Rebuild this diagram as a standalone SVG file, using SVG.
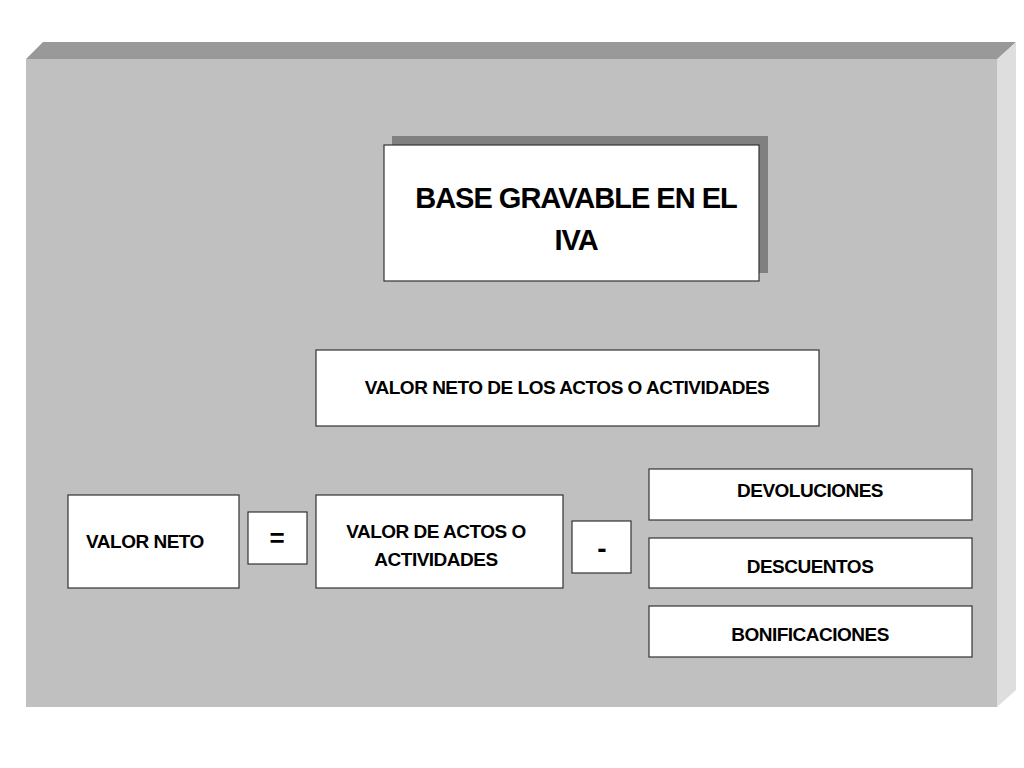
<svg xmlns="http://www.w3.org/2000/svg" width="1024" height="768" viewBox="0 0 1024 768">
<style>
.b{fill:#fff;stroke:#333;stroke-width:1.2}
.t{font-family:"Liberation Sans",Arial,sans-serif;font-weight:bold;fill:#000;text-anchor:middle}
.s{font-size:19px;letter-spacing:-0.5px}
</style>
<rect width="1024" height="768" fill="#fff"/>
<g id="panel">
<polygon points="26,59 43,42 1016,42 998,59" fill="#999"/>
<polygon points="997,59 1016,42 1016,690 997,707" fill="#dedede"/>
<rect x="26" y="59" width="971" height="648" fill="#c0c0c0"/>
</g>
<g id="title">
<rect x="392" y="136" width="376" height="137" fill="#808080"/>
<rect class="b" x="384" y="145" width="375" height="136"/>
<text class="t" x="576" y="208" font-size="29" letter-spacing="-1">BASE GRAVABLE EN EL</text>
<text class="t" x="576" y="250" font-size="29" letter-spacing="-1">IVA</text>
</g>
<g id="valorneto-def"><rect class="b" x="316" y="350" width="503" height="76"/><text class="t s" x="567" y="394">VALOR NETO DE LOS ACTOS O ACTIVIDADES</text></g>
<g id="valorneto"><rect class="b" x="68" y="495" width="171" height="93"/><text class="t s" x="145" y="548">VALOR NETO</text></g>
<g id="eq"><rect class="b" x="248" y="512" width="59" height="52"/><text class="t" x="277" y="547" font-size="26">=</text></g>
<g id="valoractos"><rect class="b" x="316" y="495" width="247" height="93"/><text class="t s" x="436" y="538">VALOR DE ACTOS O</text><text class="t s" x="436" y="566">ACTIVIDADES</text></g>
<g id="minus"><rect class="b" x="572" y="521" width="59" height="52"/><text class="t" x="602" y="558" font-size="28">-</text></g>
<g id="dev"><rect class="b" x="649" y="469" width="323" height="51"/><text class="t s" x="810" y="497">DEVOLUCIONES</text></g>
<g id="desc"><rect class="b" x="649" y="538" width="323" height="50"/><text class="t s" x="810" y="573">DESCUENTOS</text></g>
<g id="bon"><rect class="b" x="649" y="606" width="323" height="51"/><text class="t s" x="810" y="641">BONIFICACIONES</text></g>
<g id="connectors"/>
</svg>
